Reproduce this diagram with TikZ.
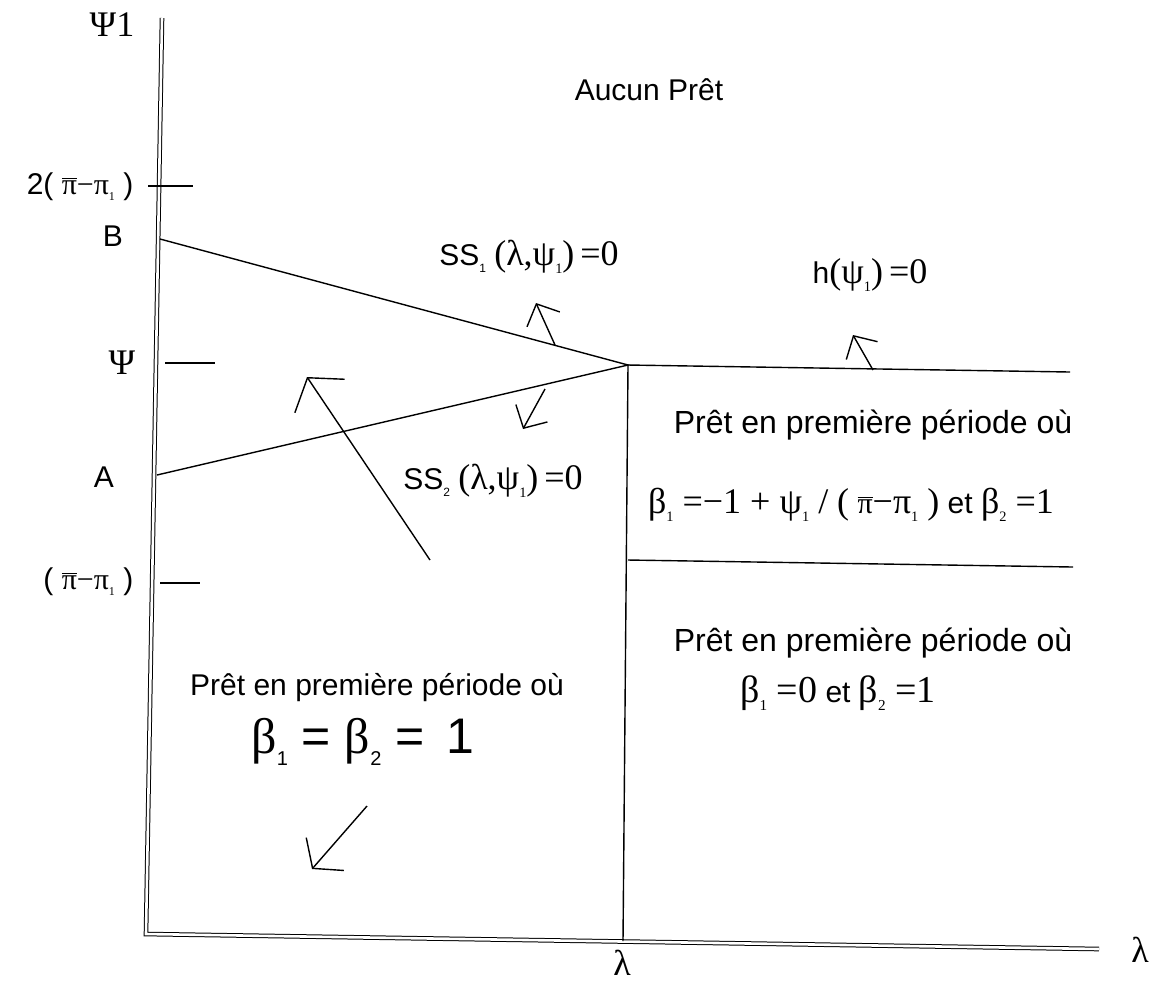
\documentclass[tikz,border=0pt]{standalone}
\usepackage{fontspec}
\setmainfont{Liberation Sans}
\newfontfamily\symb{Liberation Serif}
\usetikzlibrary{arrows.meta}
\newcommand\ind[1]{\raisebox{-0.45ex}{\scalebox{0.4}{#1}}}
\newcommand\pibar{\ensuremath{\overline{\hbox{\symb π}}}}

\begin{document}
\begin{tikzpicture}[x=0.5pt,y=-0.5pt,line width=0.7pt,
  every node/.style={font=\fontsize{15}{18}\selectfont,inner sep=1pt},
  maths/.style={font=\fontsize{18}{21}\selectfont\symb},
  axe/.style={double,double distance=1.3pt,line width=0.5pt},
  petite/.style={-{Straight Barb[length=8.5pt,width=18pt]}},
  moyenne/.style={-{Straight Barb[length=9.5pt,width=25pt]}},
  grande/.style={-{Straight Barb[length=11pt,width=30pt]}}]
  \useasboundingbox (0,0) rectangle (1154,987);
  % axes
  \coordinate (O) at (146,934);
  \coordinate (Ytop) at (162,18);
  \coordinate (Xend) at (1099,949);
  \draw[axe] (Ytop) -- (O) -- (Xend);
  \node[maths] (psiun) at (112,25) {Ψ1};
  \node[maths] (lamx) at (1140,950) {λ};
  % points et droites
  \coordinate (B) at (160,239);
  \coordinate (A) at (157,475);
  \coordinate (K) at (628,365);
  \coordinate (Kb) at (623,941);
  \coordinate (H) at (1070,372);
  \coordinate (M) at (628,560);
  \coordinate (Mr) at (1073,567);
  \draw (B) -- (K) -- (A);
  \draw (K) -- (H);
  \draw (K) -- (Kb);
  \draw (M) -- (Mr);
  % graduations
  \draw (148,186) -- (193,186);
  \draw (165,363) -- (215,363);
  \draw (160,583) -- (200,583);
  \node[anchor=east] (deuxpi) at (136,187) {2( \pibar{\symb −π\ind1} )};
  \node[anchor=east] (unpi) at (136,582) {( \pibar{\symb −π\ind1} )};
  \node[maths] (psi) at (122,363) {Ψ};
  \node (lB) at (113,236) {B};
  \node (lA) at (104,477) {A};
  \node[maths] (lam) at (622,963) {λ};
  % textes
  \node (aucun) at (649,90) {Aucun Prêt};
  \node (ssun) at (529,257) {SS\ind1 {\symb\fontsize{18}{21}\selectfont(λ,ψ\ind1)\,=0}};
  \node (hpsi) at (870,275) {h{\symb\fontsize{18}{21}\selectfont(ψ\ind1)\,=0}};
  \node (ssdeux) at (493,481) {SS\ind2 {\symb\fontsize{18}{21}\selectfont(λ,ψ\ind1)\,=0}};
  \node[font=\fontsize{16}{19}\selectfont] (pretA) at (873,425) {Prêt en première période où};
  \node (betaA) at (851,505) {{\symb\fontsize{18}{21}\selectfont β\ind1 =−1 + ψ\ind1 / (} \pibar{\symb\fontsize{18}{21}\selectfont−π\ind1 )} et {\symb\fontsize{18}{21}\selectfont β\ind2 =1}};
  \node[font=\fontsize{16}{19}\selectfont] (pretB) at (873,643) {Prêt en première période où};
  \node (betaB) at (838,693) {{\symb\fontsize{19}{22}\selectfont β\ind1 =0} et {\symb\fontsize{19}{22}\selectfont β\ind2 =1}};
  \node (pretC) at (377,688) {Prêt en première période où};
  \node[font=\fontsize{25}{30}\selectfont] (betaC) at (363,742) {{\symb β}\ind1 = {\symb β}\ind2 = \,1};
  % fleches
  \draw[petite] (555,345) -- (536,303);
  \draw[petite] (545,389) -- (523,429);
  \draw[petite] (873,370) -- (853,335);
  \draw[grande] (430,560) -- (307,377);
  \draw[moyenne] (367,806) -- (312,869);
\end{tikzpicture}
\end{document}
